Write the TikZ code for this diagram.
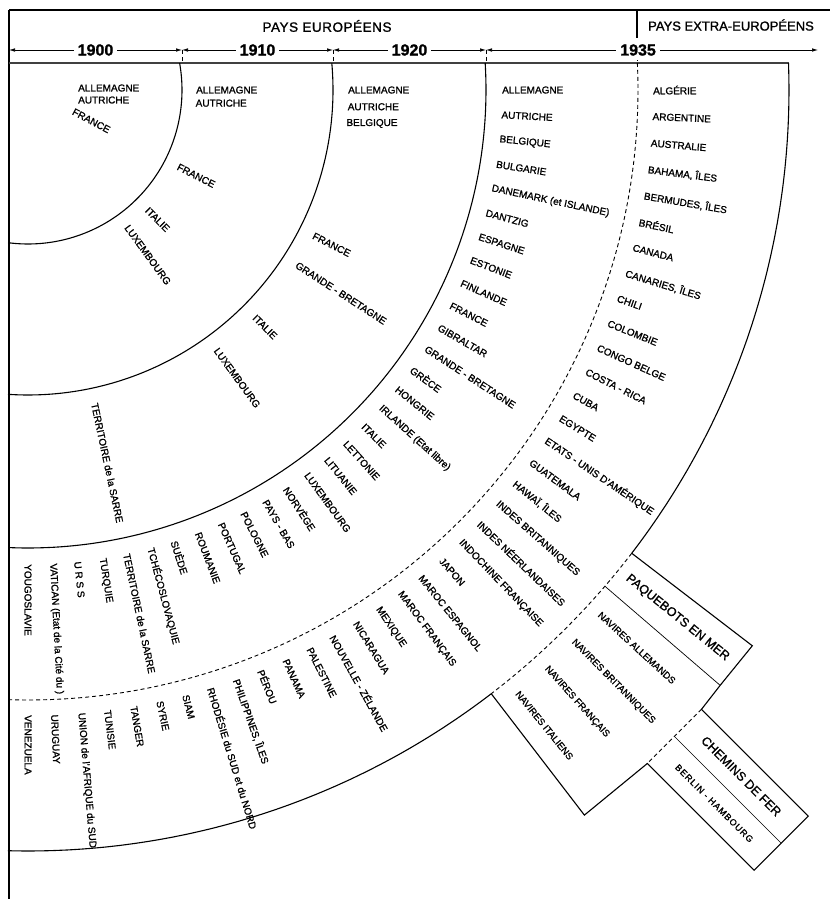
\documentclass[tikz,border=0pt]{standalone}
\usepackage{fontspec}
\setmainfont[FakeBold=1.2]{Liberation Sans}
\usetikzlibrary{arrows.meta,calc}
\begin{document}
\begin{tikzpicture}[x=1pt,y=-1pt,
  line/.style={line width=1.1pt},
  thinline/.style={line width=0.7pt},
  dsh/.style={line width=0.9pt, dash pattern=on 4pt off 3pt},
  lab/.style={anchor=west, inner sep=0pt, font=\fontsize{10}{12}\selectfont},
  nav/.style={anchor=west, inner sep=0pt, font=\fontsize{9.5}{11}\selectfont},
  head/.style={inner sep=0pt, font=\fontsize{13.5}{16}\selectfont\addfontfeature{LetterSpace=4}},
  boxlab/.style={inner sep=0pt, font=\fontsize{12.5}{15}\selectfont},
  yr/.style={line width=0.6pt, {Latex[length=6pt,width=3.5pt]}-{Latex[length=6pt,width=3.5pt]}},
  yrlab/.style={fill=white, inner sep=4pt, font=\fontsize{16}{18}\selectfont\bfseries}
]
\useasboundingbox (0,0) rectangle (830,899);

% ---------- header ----------
\coordinate (hl) at (9,10);
\coordinate (hr) at (830,10);
\coordinate (bl) at (9,899);
\draw[line] (hl) -- (hr);
\draw[line] (hl) -- (bl);
\coordinate (dv1) at (637,10);
\coordinate (dv2) at (637,38);
\draw[line] (dv1) -- (dv2);
\node[head] (peu) at (327,26) {PAYS EUROPÉENS};
\node[head, font=\fontsize{13}{16}\selectfont] (pex) at (731,25) {PAYS EXTRA-EUROPÉENS};

\coordinate (t0) at (9,50);
\coordinate (t1) at (182,50);
\coordinate (t2) at (333,50);
\coordinate (t3) at (486,50);
\coordinate (t4) at (818,50);
\coordinate (k1) at (182,63);
\coordinate (k2) at (333,63);
\coordinate (k3) at (486,63);
\coordinate (k4a) at (637,50);
\coordinate (k4) at (637,63);
\draw[dsh] (t1) -- (k1);
\draw[dsh] (t2) -- (k2);
\draw[dsh] (t3) -- (k3);
\draw[dsh] (k4a) -- (k4);
\draw[yr] (t0) -- node[yrlab] (y1900) {1900} (t1);
\draw[yr] (t1) -- node[yrlab] (y1910) {1910} (t2);
\draw[yr] (t2) -- node[yrlab] (y1920) {1920} (t3);
\draw[yr] (t3) -- node[yrlab, pos=0.458] (y1935) {1935} (t4);

\coordinate (f0) at (9,63);
\coordinate (f1) at (788.5,63);
\draw[line width=2.4pt, black!75] (f0) -- (f1);

% ---------- fan ----------
\begin{scope}[shift={(28,90)}]
\draw[line] plot[domain=-10.1:97.46, samples=80] ({154*cos(\x)},{154*sin(\x)});
\draw[line] plot[domain=-5.08:93.76, samples=100] ({305*cos(\x)},{305*sin(\x)});
\draw[line] plot[domain=-3.38:92.5, samples=120] ({458*cos(\x)},{458*sin(\x)});
\draw[dsh] plot[domain=-2.54:91.88, samples=150] ({610*cos(\x)},{610*sin(\x)});
\draw[line] plot[domain=-2.03:37.5, samples=70] ({761*cos(\x)},{761*sin(\x)});
\draw[dsh] plot[domain=37.5:52.5, samples=40] ({761*cos(\x)},{761*sin(\x)});
\draw[line] plot[domain=52.5:91.51, samples=70] ({761*cos(\x)},{761*sin(\x)});

\coordinate (A) at (37.5:761);
\coordinate (B) at (37.5:913);
\coordinate (D) at (40.7:913);
\coordinate (S1) at (40.7:761);
\coordinate (E) at (42.6:915);
\coordinate (H) at (47.4:915);
\coordinate (I) at (52.5:914);
\coordinate (J) at (52.5:761);

% 1900
\node[lab] (b0) at (50,-2) {ALLEMAGNE};
\node[lab] (b1) at (50,10) {AUTRICHE};
\node[lab, rotate=-28] (b2) at (45,21) {FRANCE};

% 1910
\node[lab] (m0) at (0:168) {ALLEMAGNE};
\node[lab] (m1) at (4.5:168) {AUTRICHE};
\foreach \a/\t [count=\i] in {27/FRANCE, 45/ITALIE, 54/LUXEMBOURG}
  \node[lab, rotate=-\a] (mm\i) at (\a:168) {\t};

% 1920
\node[lab] (d0) at (0:320) {ALLEMAGNE};
\node[lab] (d1) at (3:320) {AUTRICHE};
\node[lab] (d2) at (6:320) {BELGIQUE};
\foreach \a/\t [count=\i] in {27/FRANCE, 33/GRANDE - BRETAGNE, 45/ITALIE, 54/LUXEMBOURG, 78/TERRITOIRE de la SARRE}
  \node[lab, rotate=-\a] (dd\i) at (\a:320) {\t};

% 1935 European
\foreach \t [count=\i from 0] in {ALLEMAGNE, AUTRICHE, BELGIQUE, BULGARIE,
  DANEMARK (et ISLANDE), DANTZIG, ESPAGNE, ESTONIE, FINLANDE, FRANCE,
  GIBRALTAR, GRANDE - BRETAGNE, GRÈCE, HONGRIE, IRLANDE (Etat libre), ITALIE,
  LETTONIE, LITUANIE, LUXEMBOURG, NORVÈGE, PAYS - BAS, POLOGNE, PORTUGAL,
  ROUMANIE, SUÈDE, TCHÉCOSLOVAQUIE, TERRITOIRE de la SARRE, TURQUIE,
  U R S S, VATICAN (Etat de la Cité du ), YOUGOSLAVIE}
  \node[lab, rotate={-3*\i}] (eu\i) at ({3*\i}:474) {\t};

% 1935 extra-European
\foreach \t [count=\i from 0] in {ALGÉRIE, ARGENTINE, AUSTRALIE, {BAHAMA, ÎLES},
  {BERMUDES, ÎLES}, BRÉSIL, CANADA, {CANARIES, ÎLES}, CHILI, COLOMBIE,
  CONGO BELGE, COSTA - RICA, CUBA, EGYPTE, ETATS - UNIS D'AMÉRIQUE, GUATEMALA,
  {HAWAÏ, ÎLES}, INDES BRITANNIQUES, INDES NÉERLANDAISES, INDOCHINE FRANÇAISE,
  JAPON, MAROC ESPAGNOL, MAROC FRANÇAIS, MEXIQUE, NICARAGUA,
  NOUVELLE - ZÉLANDE, PALESTINE, PANAMA, PÉROU, {PHILIPPINES, ÎLES},
  RHODÉSIE du SUD et du NORD, SIAM, SYRIE, TANGER, TUNISIE,
  UNION de l'AFRIQUE du SUD, URUGUAY, VENEZUELA}
  \node[lab, rotate={-90*\i/37}] (ex\i) at ({90*\i/37}:625) {\t};

% paquebots
\node[boxlab, rotate=-39.1] (paq) at (39.1:837) {PAQUEBOTS EN MER};
\node[nav, rotate=-42.5] (nv1) at (42.5:775) {NAVIRES ALLEMANDS};
\node[nav, rotate=-45.3] (nv2) at (45.3:775) {NAVIRES BRITANNIQUES};
\node[nav, rotate=-48.1] (nv3) at (48.1:776) {NAVIRES FRANÇAIS};
\node[nav, rotate=-50.9] (nv4) at (50.9:776) {NAVIRES ITALIENS};
\end{scope}

\coordinate (F) at ($(E)+(45:151)$);
\coordinate (G) at ($(H)+(45:151)$);
\coordinate (M1) at ($(E)!0.5!(H)$);
\coordinate (M2) at ($(F)!0.5!(G)$);
\coordinate (q1) at ($(E)!0.25!(H)$);
\coordinate (q2) at ($(F)!0.25!(G)$);
\coordinate (q3) at ($(E)!0.75!(H)$);
\coordinate (q4) at ($(F)!0.75!(G)$);

\draw[line] (A) -- (B) -- (D) -- (E) -- (F) -- (G) -- (H) -- (I) -- (J);
\draw[dsh] (E) -- (H);
\draw[thinline] (S1) -- (D);
\draw[thinline] (M1) -- (M2);

\node[boxlab, rotate=-45] (chf) at ($(q1)!0.5!(q2)$) {CHEMINS DE FER};
\node[nav, anchor=center, rotate=-45, font=\fontsize{9}{11}\selectfont\addfontfeature{LetterSpace=10}] (bh) at ($(q3)!0.5!(q4)$) {BERLIN - HAMBOURG};
\end{tikzpicture}
\end{document}
